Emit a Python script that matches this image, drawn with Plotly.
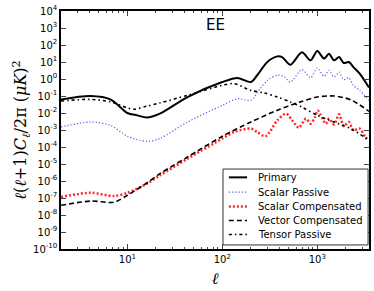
import plotly.graph_objects as go

# Primary
ell_p = [2, 4.1, 6.7, 10, 12.7, 16, 22, 43, 100, 144, 200, 233, 298, 380, 427, 520, 690, 850, 1000, 1180, 1330, 1500, 1700, 1900, 2150, 2400, 2800, 3500]
logv_p = [-1.2, -1.0, -1.21, -2.0, -2.14, -2.27, -2.04, -1.06, -0.18, 0.06, -0.18, 0.22, 1.0, 1.33, 1.29, 0.84, 1.57, 1.1, 1.65, 1.2, 1.49, 1.1, 1.29, 0.94, 1.0, 0.7, 0.31, -0.5]

# Scalar Passive
ell_sp = [2, 4.1, 6.7, 10, 16, 22, 43, 100, 144, 200, 250, 298, 380, 444, 520, 690, 850, 1000, 1180, 1330, 1500, 1700, 1900, 2150, 2400, 2800, 3500]
logv_sp = [-2.82, -2.53, -2.73, -3.37, -3.67, -3.5, -2.53, -1.55, -1.16, -1.25, -0.57, -0.08, 0.22, 0.16, -0.18, 0.55, 0.08, 0.65, 0.16, 0.51, 0.12, 0.41, -0.04, 0.08, -0.37, -0.67, -1.25]

# Scalar Compensated
ell_sc = [2, 4.1, 7.2, 10, 16, 22, 43, 100, 133, 200, 233, 285, 380, 470, 545, 640, 760, 850, 940, 1010, 1230, 1330, 1500, 1700, 1900, 2150, 2400, 2800, 3200, 3500]
logv_sc = [-6.94, -6.69, -6.88, -6.7, -6.16, -5.67, -4.69, -3.5, -3.12, -2.92, -3.12, -3.37, -2.43, -2.04, -2.43, -2.86, -2.33, -2.63, -2.27, -1.86, -2.63, -2.33, -2.67, -2.08, -2.78, -2.53, -3.02, -2.92, -3.41, -3.6]

# Vector Compensated
ell_vc = [2, 4.1, 7.2, 10, 16, 22, 43, 100, 200, 380, 660, 1000, 1500, 2250, 3500]
logv_vc = [-7.43, -7.18, -7.25, -6.84, -6.12, -5.57, -4.59, -3.37, -2.53, -1.84, -1.35, -1.06, -1.0, -1.22, -1.9]

# Tensor Passive
ell_tp = [2, 4.1, 6.7, 10, 11.8, 16, 22, 43, 100, 133, 200, 275, 380, 520, 690, 1000, 1500, 2250, 3500]
logv_tp = [-1.29, -1.2, -1.35, -1.7, -1.78, -1.6, -1.41, -0.96, -0.37, -0.27, -0.67, -0.82, -1.06, -1.35, -1.65, -2.14, -2.53, -2.92, -3.6]

x_tick_exps = [1, 2, 3]
y_tick_exps = list(range(-10, 5))

series = [
    ("Primary", ell_p, logv_p, dict(color="black", width=2, dash="solid")),
    ("Scalar Passive", ell_sp, logv_sp, dict(color="#5a5aff", width=1.2, dash="1.2px,2px")),
    ("Scalar Compensated", ell_sc, logv_sc, dict(color="#ff2a2a", width=2.5, dash="2px,2px")),
    ("Vector Compensated", ell_vc, logv_vc, dict(color="black", width=1.6, dash="5px,3px")),
    ("Tensor Passive", ell_tp, logv_tp, dict(color="black", width=1.6, dash="3px,3px,1.5px,3px")),
]

fig = go.Figure()
for name, x, lv, line in series:
    fig.add_trace(go.Scatter(
        x=x, y=[10 ** v for v in lv], mode="lines", name=name, showlegend=False,
        line=dict(shape="spline", smoothing=0.8, **line),
    ))

font = "DejaVu Sans, sans-serif"

# manual legend (box, samples, labels) in axis-domain coordinates
shapes = [dict(type="rect", xref="x domain", yref="y domain", x0=0.526, x1=0.997, y0=0.017, y1=0.336,
               line=dict(color="#333333", width=1), fillcolor="white", layer="above")]
annotations = [dict(text="EE", x=0.5, y=0.94, xref="paper", yref="paper", yanchor="middle",
                    showarrow=False, font=dict(size=15, family=font))]
row_y = [0.301, 0.239, 0.179, 0.120, 0.061]
for (name, _, _, line), yy in zip(series, row_y):
    shapes.append(dict(type="line", xref="x domain", yref="y domain", x0=0.545, x1=0.604, y0=yy, y1=yy,
                       line=dict(color=line["color"], width=line["width"], dash=line["dash"]), layer="above"))
    annotations.append(dict(text=name, xref="x domain", yref="y domain", x=0.632, y=yy, xanchor="left",
                            yanchor="middle", showarrow=False, font=dict(size=10, family=font)))

fig.update_layout(
    width=374, height=291,
    margin=dict(l=61, r=5, t=11, b=42),
    paper_bgcolor="white", plot_bgcolor="white",
    font=dict(family=font, size=10, color="black"),
    shapes=shapes, annotations=annotations,
)
fig.update_xaxes(
    type="log", range=[0.301, 3.545],
    tickvals=[10 ** e for e in x_tick_exps], ticktext=[f"10<sup>{e}</sup>" for e in x_tick_exps],
    ticks="inside", ticklen=5, mirror="allticks", showline=True, linecolor="black", linewidth=1.5,
    showgrid=False, zeroline=False, automargin=False,
    minor=dict(tickvals=[m * 10 ** e for e in [0, 1, 2, 3] for m in range(2, 10) if 2 <= m * 10 ** e <= 3500],
               ticks="inside", ticklen=2.5, showgrid=False),
    title=dict(text="<i>ℓ</i>", font=dict(size=16, family="DejaVu Serif, serif"), standoff=9),
)
fig.update_yaxes(
    type="log", range=[-10, 4],
    tickvals=[10.0 ** e for e in y_tick_exps], ticktext=[f"10<sup>{e}</sup>" for e in y_tick_exps],
    ticks="inside", ticklen=5, mirror="allticks", showline=True, linecolor="black", linewidth=1.5,
    showgrid=False, zeroline=False, automargin=False,
    title=dict(text="<i>ℓ</i>(<i>ℓ</i>+1)<i>C<sub>ℓ</sub></i>/2π (<i>μK</i>)<sup>2</sup>",
               font=dict(size=16, family="DejaVu Serif, serif"), standoff=2),
)
fig.write_html("out.html", config={"displayModeBar": False},
               post_script="document.body.style.margin='0';")
